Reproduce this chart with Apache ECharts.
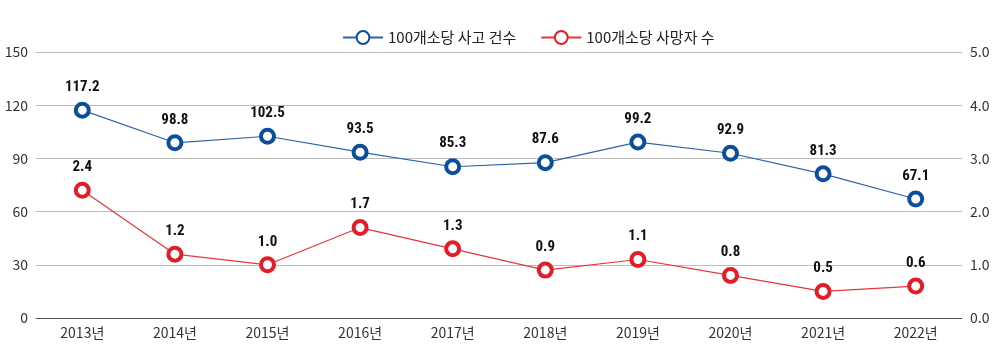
<!DOCTYPE html>
<html><head><meta charset="utf-8">
<script src="https://cdn.jsdelivr.net/npm/echarts@6/dist/echarts.min.js"></script>
<style>html,body{margin:0;padding:0;background:#fff}#c{width:1000px;height:359px}</style>
</head><body><div id="c"></div>
<script>
const categories = ['2013년','2014년','2015년','2016년','2017년','2018년','2019년','2020년','2021년','2022년'];
const accidents = [117.2, 98.8, 102.5, 93.5, 85.3, 87.6, 99.2, 92.9, 81.3, 67.1];
const deaths = [2.4, 1.2, 1.0, 1.7, 1.3, 0.9, 1.1, 0.8, 0.5, 0.6];
const seriesNames = ['100개소당 사고 건수', '100개소당 사망자 수'];
const leftTicks = [0, 150, 30];
const rightTicks = [0, 5, 1];

const font = '"Noto Sans CJK KR", "Noto Sans", sans-serif';
const labelFont = '"Liberation Sans Narrow", "Roboto Condensed", "Liberation Sans", Arial, sans-serif';
const chart = echarts.init(document.getElementById('c'));
chart.setOption({
  animation: false,
  legend: {
    top: 25, left: 337, itemWidth: 40, itemHeight: 16, itemGap: 24,
    textStyle: {fontFamily: font, fontSize: 15, color: '#222'},
    data: seriesNames
  },
  grid: {left: 36, right: 38, top: 52, bottom: 41},
  xAxis: {
    type: 'category', data: categories, boundaryGap: true,
    axisLine: {lineStyle: {color: '#555', width: 1}},
    axisTick: {show: false},
    axisLabel: {fontFamily: font, fontSize: 14, color: '#333', margin: 8}
  },
  yAxis: [
    {type: 'value', min: leftTicks[0], max: leftTicks[1], interval: leftTicks[2],
     axisLine: {show: false}, axisTick: {show: false},
     splitLine: {lineStyle: {color: '#bdbdbd', width: 1}},
     axisLabel: {fontFamily: font, fontSize: 14, color: '#333', margin: 8}},
    {type: 'value', min: rightTicks[0], max: rightTicks[1], interval: rightTicks[2],
     axisLine: {show: false}, axisTick: {show: false}, splitLine: {show: false},
     axisLabel: {fontFamily: font, fontSize: 14, color: '#333', margin: 8,
       formatter: v => v.toFixed(1)}}
  ],
  series: [
    {name: seriesNames[0], type: 'line', yAxisIndex: 0, data: accidents,
     symbol: 'circle', symbolSize: 13,
     itemStyle: {color: '#fff', borderColor: '#0b4f9c', borderWidth: 4},
     lineStyle: {color: '#2f63a8', width: 1.2},
     label: {show: true, position: 'top', distance: 7, fontFamily: labelFont, fontWeight: 'bold',
       fontSize: 15, color: '#111', formatter: p => p.value.toFixed(1)}},
    {name: seriesNames[1], type: 'line', yAxisIndex: 1, data: deaths,
     symbol: 'circle', symbolSize: 13,
     itemStyle: {color: '#fff', borderColor: '#e31c25', borderWidth: 4},
     lineStyle: {color: '#e8353c', width: 1.2},
     label: {show: true, position: 'top', distance: 7, fontFamily: labelFont, fontWeight: 'bold',
       fontSize: 15, color: '#111', formatter: p => p.value.toFixed(1)}}
  ]
});
</script></body></html>
